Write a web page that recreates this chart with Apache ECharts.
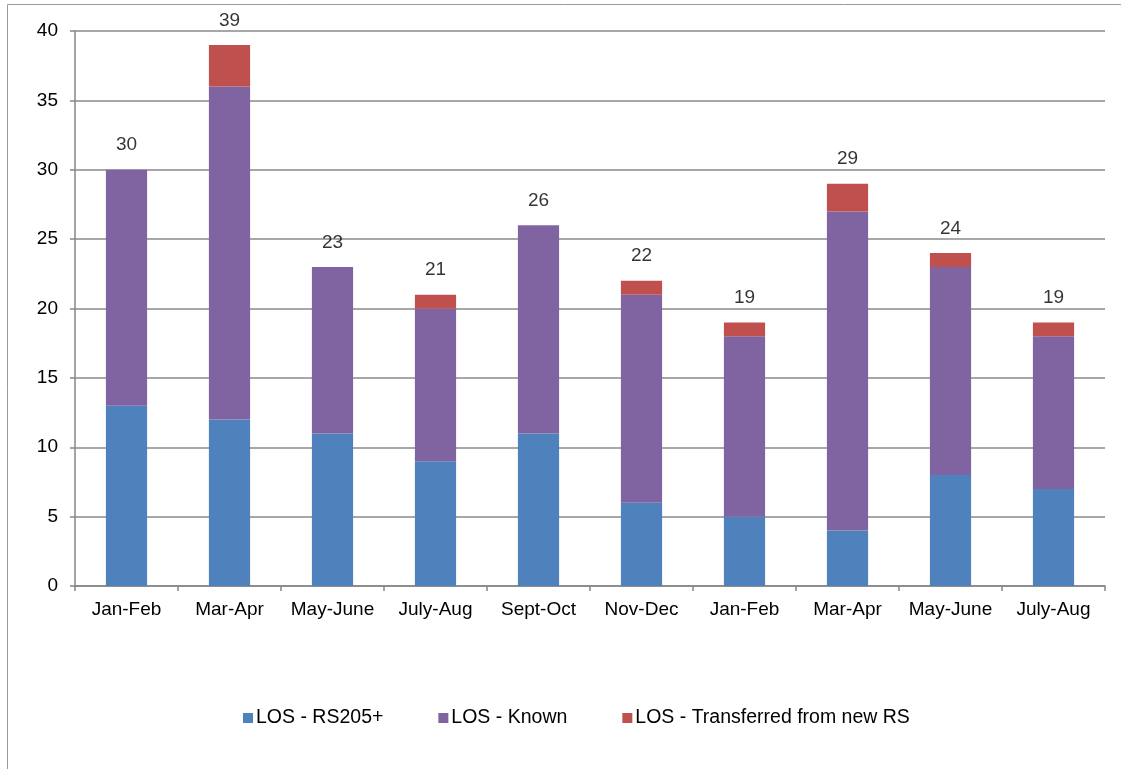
<!DOCTYPE html>
<html>
<head>
<meta charset="utf-8">
<script src="https://cdn.jsdelivr.net/npm/echarts@6/dist/echarts.min.js"></script>
<style>
html,body{margin:0;padding:0;background:#fff;}
#chart{width:1121px;height:769px;}
</style>
</head>
<body>
<div id="chart"></div>
<script>
const categories = ["Jan-Feb","Mar-Apr","May-June","July-Aug","Sept-Oct","Nov-Dec","Jan-Feb","Mar-Apr","May-June","July-Aug"];
const rs205 = [13,12,11,9,11,6,5,4,8,7];
const known = [17,24,12,11,15,15,13,23,15,11];
const transferred = [0,3,0,1,0,1,1,2,1,1];
const totals = [30,39,23,21,26,22,19,29,24,19];
const yTicks = [0,5,10,15,20,25,30,35,40];

const font = "'Liberation Sans', Arial, sans-serif";
const chart = echarts.init(document.getElementById('chart'));
chart.setOption({
  animation:false,
  graphic:[{type:'rect',shape:{x:7.5,y:4.5,width:1300,height:900},style:{fill:'none',stroke:'#9a9a9a',lineWidth:1},silent:true,z:-1}],
  grid:{left:75,right:16,top:31,bottom:183,containLabel:false},
  legend:{
    data:['LOS - RS205+','LOS - Known','LOS - Transferred from new RS'],
    left:238, top:703, itemWidth:10, itemHeight:10, itemGap:55,
    icon:'rect',
    textStyle:{fontFamily:font,fontSize:19.5,color:'#000',padding:[0,0,0,-2]}
  },
  xAxis:{
    type:'category',
    data:categories,
    axisLine:{lineStyle:{color:'#868686',width:1.5}},
    axisTick:{show:true,length:5,lineStyle:{color:'#868686',width:1.5}},
    axisLabel:{color:'#000',fontFamily:font,fontSize:19,margin:14,interval:0}
  },
  yAxis:{
    type:'value',min:yTicks[0],max:yTicks[yTicks.length-1],interval:5,
    axisLine:{show:true,lineStyle:{color:'#868686',width:1.5}},
    axisTick:{show:true,length:5,lineStyle:{color:'#868686',width:1.5}},
    splitLine:{lineStyle:{color:'#8a8a8a',width:1.5}},
    axisLabel:{color:'#000',fontFamily:font,fontSize:19,margin:17}
  },
  series:[
    {name:'LOS - RS205+',type:'bar',stack:'a',data:rs205,barWidth:'40%',itemStyle:{color:'#4F81BD'}},
    {name:'LOS - Known',type:'bar',stack:'a',data:known,itemStyle:{color:'#8064A2'}},
    {name:'LOS - Transferred from new RS',type:'bar',stack:'a',data:transferred,itemStyle:{color:'#C0504D'}},
    {name:'total',type:'scatter',symbolSize:0,data:totals.map((v,i)=>[i,v]),
     label:{show:true,position:'top',distance:15,formatter:p=>String(p.value[1]),color:'#000',fontFamily:font,fontSize:19},
     silent:true,z:5}
  ]
});
</script>
</body>
</html>
